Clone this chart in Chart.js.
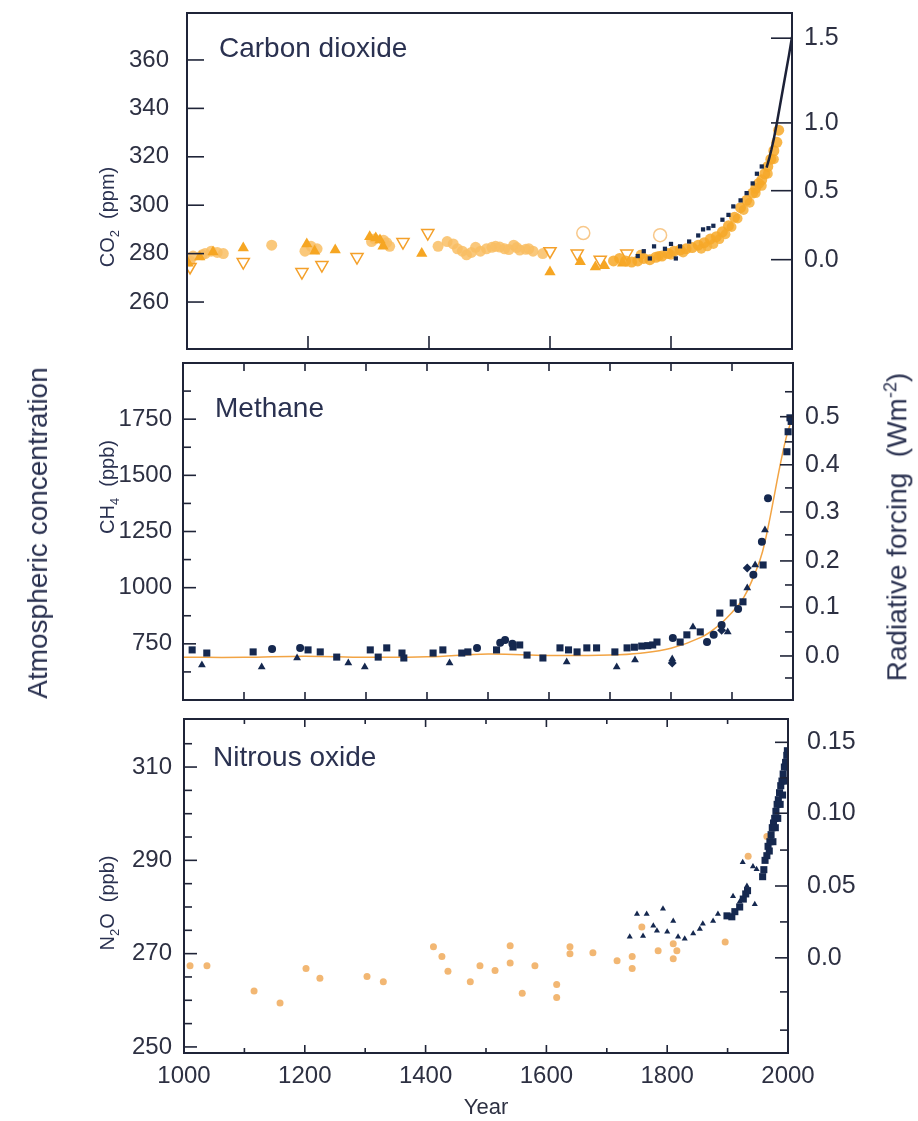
<!DOCTYPE html>
<html lang="en">
<head>
<meta charset="utf-8">
<title>Atmospheric concentration</title>
<script src="https://cdn.jsdelivr.net/npm/chart.js@4.4.0/dist/chart.umd.min.js"></script>
<style>
  html, body { margin: 0; padding: 0; background: #fff; }
  #pagina { position: relative; width: 918px; height: 1121px; overflow: hidden;
            font-family: "Liberation Sans", Arial, sans-serif; color: #2a3150; }
  .camada { position: absolute; left: 0; top: 0; }
  .vertical { position: absolute; white-space: nowrap; transform: translate(-50%, -50%) rotate(-90deg); }
  .nome { position: absolute; white-space: nowrap; transform: translateY(-50%); font-size: 28px; }
  sub, sup { font-size: 65%; }
</style>
</head>
<body>
<div id="pagina">
  <canvas id="grafico-co2" class="camada" width="918" height="1121"></canvas>
  <canvas id="grafico-ch4" class="camada" width="918" height="1121"></canvas>
  <canvas id="grafico-n2o" class="camada" width="918" height="1121"></canvas>

  <div class="vertical" style="left:38px; top:533px; font-size:28px;">Atmospheric concentration</div>
  <div class="vertical" style="left:897px; top:527px; font-size:28px;">Radiative forcing&nbsp; (Wm<sup>-2</sup>)</div>
  <div class="vertical" style="left:109px; top:217px; font-size:20px;">CO<sub>2</sub>&nbsp; (ppm)</div>
  <div class="vertical" style="left:109px; top:487px; font-size:20px;">CH<sub>4</sub>&nbsp; (ppb)</div>
  <div class="vertical" style="left:109px; top:903px; font-size:20px;">N<sub>2</sub>O&nbsp; (ppb)</div>

  <div class="nome" style="left:219px; top:48px;">Carbon dioxide</div>
  <div class="nome" style="left:215px; top:408px;">Methane</div>
  <div class="nome" style="left:213px; top:757px;">Nitrous oxide</div>
</div>

<script>
// ---- Eixos ----
const anosMarcas = [1000, 1100, 1200, 1300, 1400, 1500, 1600, 1700, 1800, 1900, 2000];
const anosRotulos = ['1000', '', '1200', '', '1400', '', '1600', '', '1800', '', '2000'];
const co2MarcasX = [1200, 1400, 1600, 1800];

const co2Marcas = [260, 280, 300, 320, 340, 360];
const co2Rotulos = ['260', '280', '300', '320', '340', '360'];
const co2ForcaEm = [277.5, 306, 334, 369];
const co2ForcaRotulos = ['0.0', '0.5', '1.0', '1.5'];

const ch4Marcas = [625, 750, 875, 1000, 1125, 1250, 1375, 1500, 1625, 1750, 1875];
const ch4Rotulos = ['', '750', '', '1000', '', '1250', '', '1500', '', '1750', ''];
const ch4ForcaEm = [598, 696, 803, 914, 1012, 1119, 1235, 1337, 1444, 1547, 1649, 1761, 1872];
const ch4ForcaRotulos = ['', '0.0', '', '0.1', '', '0.2', '', '0.3', '', '0.4', '', '0.5', ''];

const n2oMarcas = [250, 255, 260, 265, 270, 275, 280, 285, 290, 295, 300, 305, 310, 315];
const n2oRotulos = ['250', '', '', '', '270', '', '', '', '290', '', '', '', '310', ''];
const n2oForcaEm = [253.6, 261.8, 269.1, 276.8, 284.5, 292.2, 300.1, 307.7, 315.3];
const n2oForcaRotulos = ['', '', '0.0', '', '0.05', '', '0.10', '', '0.15'];

// ---- Dióxido de carbono ----
const co2LinhaAnos = [1958, 1962, 1966, 1970, 1975, 1980, 1985, 1990, 1995, 2000];
const co2LinhaPpm = [315.5, 319, 323, 327.5, 334, 341, 348, 355, 362, 369.5];

const co2EscuroAnos = [1745, 1755, 1765, 1772, 1790, 1800, 1808, 1815, 1830, 1845, 1853, 1862, 1870, 1885, 1895, 1903, 1915, 1925, 1935, 1942, 1950];
const co2EscuroPpm = [279, 281, 278, 283, 282, 284, 278, 283, 285, 287.5, 290, 290.5, 291.5, 294, 296, 299.5, 302, 305, 309, 313, 316];

const co2FaixaAnos = [1705, 1715, 1725, 1735, 1745, 1755, 1765, 1775, 1785, 1795, 1805, 1815, 1825, 1835, 1845, 1855, 1865, 1875, 1885, 1895, 1905, 1915, 1925, 1935, 1940, 1945, 1950, 1955, 1960, 1965, 1970, 1975, 1978];
const co2FaixaPpm = [277, 278, 277, 276.5, 277, 278, 277.5, 278.5, 279, 280, 281, 281.5, 282, 282.5, 283.5, 284.5, 286, 287, 289, 291.5, 295, 299, 302, 305, 307, 309, 310.5, 313, 316, 319, 322.5, 326, 331];
const co2FaixaBaixaAnos = [1750, 1780, 1800, 1820, 1850, 1860, 1870, 1880, 1890, 1900, 1910, 1920, 1930, 1940, 1950, 1960, 1970];
const co2FaixaBaixaPpm = [279.5, 279, 279.5, 280.5, 282, 283, 284, 286, 288, 291, 294.5, 298, 301, 305, 308, 313, 319];

const co2TriAnos = [1002, 1021, 1043, 1093, 1198, 1211, 1245, 1302, 1312, 1319, 1324, 1388, 1600, 1650, 1675, 1690, 1720];
const co2TriPpm = [276, 278.6, 280.7, 282.3, 284, 281, 281.5, 287, 286.5, 285.6, 283, 280, 272.4, 276.6, 274.5, 275, 276];

const co2TriAbertoAnos = [1005, 1093, 1190, 1223, 1281, 1357, 1398, 1600, 1645, 1683, 1727];
const co2TriAbertoPpm = [274.5, 276.5, 272.4, 275.3, 278.6, 284.8, 288.5, 281, 280, 277.5, 280];

const co2CirculoAnos = [1005, 1010, 1025, 1030, 1040, 1050, 1060, 1140, 1195, 1205, 1215, 1305, 1310, 1325, 1330, 1335, 1415, 1430, 1440, 1447, 1455, 1462, 1470, 1477, 1485, 1495, 1504, 1510, 1517, 1525, 1532, 1540, 1545, 1550, 1560, 1565, 1572, 1588];
const co2CirculoPpm = [277, 279, 279.5, 280, 281, 280.5, 280, 283.5, 281, 283, 282, 285, 286, 285.5, 284.5, 283, 283, 285, 284, 282, 281, 279.5, 280.5, 282.6, 281, 282, 282.6, 283, 282.7, 282, 281.7, 283.5, 282.5, 281.5, 281.8, 282, 281, 280];
const co2CirculoAbertoAnos = [1655, 1782];
const co2CirculoAbertoPpm = [288.5, 287.6];

// ---- Metano ----
const ch4QuadAnos = [1015, 1039, 1115, 1205, 1225, 1252, 1307, 1320, 1334, 1359, 1362, 1410, 1426, 1457, 1467, 1514, 1541, 1552, 1564, 1590, 1618, 1632, 1646, 1662, 1678, 1708, 1728, 1740, 1752, 1762, 1770, 1777, 1815, 1826, 1848, 1880, 1902, 1918, 1951, 1990, 1992, 1995, 1997];
const ch4QuadPpb = [723, 709, 714, 723, 714, 691, 723, 691, 732, 709, 687, 709, 723, 709, 714, 723, 736, 745, 700, 687, 732, 723, 714, 732, 732, 714, 732, 735, 740, 742, 745, 758, 758, 790, 803, 887, 932, 937, 1101, 1605, 1694, 1756, 1740];

const ch4TriAnos = [1031, 1129, 1187, 1271, 1298, 1437, 1629, 1711, 1741, 1802, 1836, 1893, 1925, 1938, 1954];
const ch4TriPpb = [656, 647, 687, 665, 647, 665, 669, 647, 678, 682, 825, 803, 999, 1101, 1257];

const ch4CircAnos = [1146, 1192, 1482, 1520, 1528, 1540, 1803, 1859, 1870, 1883, 1910, 1935, 1949, 1959];
const ch4CircPpb = [727, 732, 732, 755, 767, 750, 776, 758, 790, 834, 905, 1057, 1204, 1398];

const ch4LosAnos = [1802, 1883, 1925];
const ch4LosPpb = [665, 810, 1088];

const ch4LinhaAnos = [1000, 1100, 1200, 1300, 1400, 1500, 1600, 1700, 1750, 1800, 1850, 1875, 1900, 1920, 1940, 1950, 1960, 1970, 1980, 1990, 2000];
const ch4LinhaPpb = [690, 690, 695, 690, 692, 705, 698, 700, 708, 730, 780, 825, 890, 960, 1080, 1160, 1280, 1420, 1560, 1680, 1765];

// ---- Óxido nitroso ----
const n2oClaroAnos = [1010, 1038, 1116, 1159, 1202, 1225, 1303, 1330, 1413, 1427, 1437, 1474, 1490, 1515, 1540, 1540, 1560, 1581, 1617, 1617, 1639, 1639, 1677, 1717, 1742, 1742, 1758, 1785, 1810, 1810, 1816, 1896, 1934, 1965];
const n2oClaroPpb = [267.4, 267.4, 262, 259.4, 266.8, 264.7, 265.1, 264, 271.5, 269.4, 266.2, 264, 267.4, 266.4, 271.7, 268, 261.5, 267.4, 263.4, 260.6, 271.5, 270, 270.2, 268.5, 269.4, 266.8, 275.7, 270.6, 272.1, 268.9, 270.6, 272.5, 290.9, 295.1];

const n2oTriAnos = [1738, 1750, 1760, 1766, 1777, 1783, 1793, 1800, 1810, 1818, 1829, 1843, 1854, 1859, 1876, 1884, 1909, 1920, 1925, 1932, 1942, 1945, 1948];
const n2oTriPpb = [273.6, 278.5, 273.8, 278.5, 276, 274.9, 279.6, 274.7, 277, 273.6, 273.2, 274.3, 275.3, 276.4, 277, 278.5, 282.3, 281.1, 289.6, 284.5, 288.7, 280.6, 288.1];

const n2oQuadAnos = [1899, 1907, 1912, 1920, 1926, 1930, 1933, 1958, 1960, 1962, 1965, 1967, 1969, 1970, 1972, 1974, 1975, 1976, 1978, 1979, 1980, 1982, 1983, 1984, 1986, 1987, 1988, 1990, 1991, 1992, 1994, 1995, 1996, 1998, 1999, 1999];
const n2oQuadPpb = [278.1, 277.9, 279, 280, 281.7, 282.8, 283.5, 286.5, 288, 290, 291, 293, 292, 294, 295.5, 297, 294, 298, 299, 297, 300.5, 302, 299, 303, 304.5, 302, 306, 307, 304, 308.5, 310, 307, 311, 312.5, 313.5, 310];

// Cores
const LARANJA = '#f6a623';
const LARANJA_CLARO = 'rgba(249, 190, 100, 0.85)';
const AZUL = '#15284f';
const MOLDURA = '#1f2438';

Chart.defaults.font.family = '"Liberation Sans", Arial, sans-serif';
Chart.defaults.color = '#2d3042';

function pontos(anos, valores) {
  return anos.map((a, i) => ({ x: a, y: valores[i] }));
}

// Moldura com marcas voltadas para dentro
const moldura = {
  id: 'moldura',
  afterDatasetsDraw(chart, args, opts) {
    const { ctx, chartArea: a } = chart;
    ctx.save();
    ctx.strokeStyle = MOLDURA;
    ctx.lineWidth = 1.6;
    Object.values(chart.scales).forEach(s => {
      s.ticks.forEach(t => {
        const menor = t.label === '';
        ctx.beginPath();
        if (s.axis === 'x') {
          const len = menor ? opts.xMenor : opts.xMaior;
          const px = s.getPixelForValue(t.value);
          ctx.moveTo(px, a.bottom);
          ctx.lineTo(px, a.bottom - len);
          if (opts.topo) {
            ctx.moveTo(px, a.top);
            ctx.lineTo(px, a.top + len);
          }
        } else {
          const esquerda = s.position === 'left';
          const len = menor ? opts.yMenor : (esquerda ? opts.yMaior : opts.yMaiorDir);
          const py = s.getPixelForValue(t.value);
          const x0 = esquerda ? a.left : a.right;
          ctx.moveTo(x0, py);
          ctx.lineTo(x0 + (esquerda ? len : -len), py);
        }
        ctx.stroke();
      });
    });
    ctx.lineWidth = 2;
    ctx.strokeRect(a.left, a.top, a.right - a.left, a.bottom - a.top);
    ctx.restore();
  }
};

function eixoY(pos, min, max, marcas, rotulos, largura, pad, tamanho) {
  return {
    type: 'linear', position: pos, min: min, max: max,
    grid: { display: false, drawTicks: false },
    border: { display: false },
    afterBuildTicks: s => { s.ticks = marcas.map(v => ({ value: v })); },
    afterFit: s => { s.width = largura; s.paddingTop = 0; s.paddingBottom = 0; },
    ticks: { autoSkip: false, padding: pad, font: { size: tamanho }, callback: (v, i) => rotulos[i] }
  };
}

function eixoX(marcas, rotulos, comRotulos) {
  const eixo = {
    type: 'linear', position: 'bottom', min: 1000, max: 2000,
    display: comRotulos,
    grid: { display: false, drawTicks: false },
    border: { display: false },
    afterBuildTicks: s => { s.ticks = marcas.map(v => ({ value: v })); },
    ticks: { autoSkip: false, maxRotation: 0, padding: 9, font: { size: 24 }, callback: (v, i) => rotulos[i] }
  };
  if (comRotulos) {
    eixo.afterFit = s => { s.height = 68; s.paddingLeft = 0; s.paddingRight = 0; };
    eixo.title = { display: true, text: 'Year', font: { size: 22 }, padding: { top: 0, bottom: 0 } };
  }
  return eixo;
}

function criarPainel(id, datasets, escalas, padding, marcasOpts) {
  new Chart(document.getElementById(id), {
    type: 'scatter',
    data: { datasets: datasets },
    options: {
      responsive: false,
      animation: false,
      events: [],
      layout: { padding: padding },
      plugins: { legend: { display: false }, tooltip: { enabled: false }, moldura: marcasOpts },
      scales: escalas
    },
    plugins: [moldura]
  });
}

// Painel 1: CO2
criarPainel('grafico-co2', [
  { data: pontos(co2LinhaAnos, co2LinhaPpm), showLine: true, pointRadius: 0, borderColor: '#1c2137', borderWidth: 2.5 },
  { data: pontos(co2EscuroAnos, co2EscuroPpm), pointStyle: 'rect', pointRadius: 3, backgroundColor: AZUL, borderWidth: 0 },
  { data: pontos(co2FaixaAnos, co2FaixaPpm), pointRadius: 5.5, backgroundColor: 'rgba(247, 168, 40, 0.85)', borderWidth: 0 },
  { data: pontos(co2FaixaBaixaAnos, co2FaixaBaixaPpm), pointRadius: 5, backgroundColor: 'rgba(247, 175, 55, 0.85)', borderWidth: 0 },
  { data: pontos(co2TriAnos, co2TriPpm), pointStyle: 'triangle', pointRadius: 6.5, backgroundColor: LARANJA, borderWidth: 0 },
  { data: pontos(co2TriAbertoAnos, co2TriAbertoPpm), pointStyle: 'triangle', rotation: 180, pointRadius: 7, backgroundColor: 'rgba(255,255,255,0)', borderColor: '#f4a02a', borderWidth: 1.5 },
  { data: pontos(co2CirculoAnos, co2CirculoPpm), pointRadius: 5.5, backgroundColor: LARANJA_CLARO, borderWidth: 0 },
  { data: pontos(co2CirculoAbertoAnos, co2CirculoAbertoPpm), pointRadius: 6.5, backgroundColor: 'rgba(255,255,255,0)', borderColor: '#f8c88a', borderWidth: 1.5 }
], {
  x: eixoX(co2MarcasX, ['1200', '1400', '1600', '1800'], false),
  y: eixoY('left', 240.6, 379.4, co2Marcas, co2Rotulos, 187, 18, 24),
  y2: eixoY('right', 240.6, 379.4, co2ForcaEm, co2ForcaRotulos, 126, 12, 25)
}, { top: 13, bottom: 772, left: 0, right: 0 },
{ xMaior: 13, xMenor: 13, yMaior: 17, yMaiorDir: 21, yMenor: 8, topo: false });

// Painel 2: CH4
criarPainel('grafico-ch4', [
  { data: pontos(ch4QuadAnos, ch4QuadPpb), pointStyle: 'rect', pointRadius: 5, backgroundColor: AZUL, borderWidth: 0 },
  { data: pontos(ch4CircAnos, ch4CircPpb), pointRadius: 4, backgroundColor: AZUL, borderWidth: 0 },
  { data: pontos(ch4TriAnos, ch4TriPpb), pointStyle: 'triangle', pointRadius: 4.5, backgroundColor: AZUL, borderWidth: 0 },
  { data: pontos(ch4LosAnos, ch4LosPpb), pointStyle: 'rectRot', pointRadius: 4.5, backgroundColor: AZUL, borderWidth: 0 },
  { data: pontos(ch4LinhaAnos, ch4LinhaPpb), showLine: true, tension: 0.4, pointRadius: 0, borderColor: '#f2a444', borderWidth: 1.5 }
], {
  x: eixoX(anosMarcas, anosRotulos, false),
  y: eixoY('left', 500, 2000, ch4Marcas, ch4Rotulos, 183, 11, 24),
  y2: eixoY('right', 500, 2000, ch4ForcaEm, ch4ForcaRotulos, 125, 12, 25)
}, { top: 363, bottom: 421, left: 0, right: 0 },
{ xMaior: 8, xMenor: 8, yMaior: 13, yMaiorDir: 13, yMenor: 8, topo: true });

// Painel 3: N2O
criarPainel('grafico-n2o', [
  { data: pontos(n2oQuadAnos, n2oQuadPpb), pointStyle: 'rect', pointRadius: 5, backgroundColor: AZUL, borderWidth: 0 },
  { data: pontos(n2oTriAnos, n2oTriPpb), pointStyle: 'triangle', pointRadius: 3.5, backgroundColor: AZUL, borderWidth: 0 },
  { data: pontos(n2oClaroAnos, n2oClaroPpb), pointRadius: 3.5, backgroundColor: 'rgba(240, 170, 90, 0.85)', borderWidth: 0 }
], {
  x: eixoX(anosMarcas, anosRotulos, true),
  y: eixoY('left', 248.7, 320.3, n2oMarcas, n2oRotulos, 184, 12, 24),
  y2: eixoY('right', 248.7, 320.3, n2oForcaEm, n2oForcaRotulos, 130, 19, 25)
}, { top: 719, bottom: 0, left: 0, right: 0 },
{ xMaior: 8, xMenor: 5, yMaior: 13, yMaiorDir: 13, yMenor: 8, topo: true });
</script>
</body>
</html>
